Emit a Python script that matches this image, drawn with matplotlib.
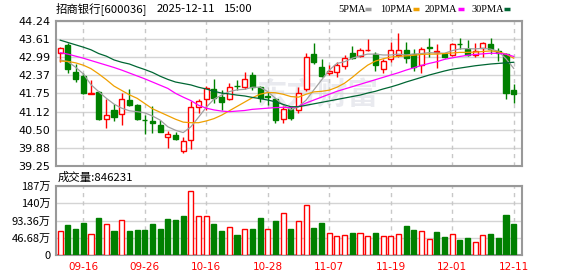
import numpy as np
import matplotlib
matplotlib.use("Agg")
import matplotlib.pyplot as plt
from matplotlib.lines import Line2D

plt.rcParams['font.family'] = ['Noto Sans CJK SC', 'DejaVu Sans']

# trading days 2025-09-11 .. 2025-12-11
dates = ["09-11", "09-12", "09-15", "09-16", "09-17", "09-18", "09-19", "09-22", "09-23", "09-24",
         "09-25", "09-26", "09-29", "09-30", "10-09", "10-10", "10-13", "10-14", "10-15", "10-16",
         "10-17", "10-20", "10-21", "10-22", "10-23", "10-24", "10-27", "10-28", "10-29", "10-30",
         "10-31", "11-03", "11-04", "11-05", "11-06", "11-07", "11-10", "11-11", "11-12", "11-13",
         "11-14", "11-17", "11-18", "11-19", "11-20", "11-21", "11-24", "11-25", "11-26", "11-27",
         "11-28", "12-01", "12-02", "12-03", "12-04", "12-05", "12-08", "12-09", "12-10", "12-11"]

opens = [43.15, 43.41, 42.47, 42.35, 41.74, 41.79, 40.86, 41.18, 41.03, 41.52,
         41.36, 40.84, 40.81, 40.66, 40.24, 40.32, 39.78, 40.15, 41.27, 41.56,
         41.90, 41.64, 41.55, 42.02, 41.98, 42.38, 41.96, 41.66, 41.56, 40.86,
         41.20, 41.18, 41.89, 43.10, 42.67, 42.44, 42.50, 42.69, 43.13, 43.04,
         43.23, 43.10, 42.58, 42.92, 43.07, 43.24, 43.10, 42.73, 43.36, 43.18,
         43.10, 43.07, 43.46, 43.27, 43.07, 43.30, 43.45, 43.22, 43.10, 41.87]
highs = [43.33, 43.49, 42.75, 42.46, 42.21, 41.83, 41.56, 41.38, 41.75, 41.89,
         41.38, 41.00, 41.32, 40.83, 40.45, 40.43, 40.24, 41.50, 41.55, 42.02,
         42.24, 41.85, 42.10, 42.21, 42.49, 42.47, 42.00, 41.78, 41.58, 41.32,
         41.29, 41.98, 43.13, 43.49, 42.92, 42.73, 42.84, 43.07, 43.38, 43.30,
         43.61, 43.18, 42.92, 43.51, 43.84, 43.52, 43.27, 43.33, 43.65, 43.44,
         43.15, 43.47, 43.64, 43.59, 43.47, 43.53, 43.67, 43.30, 43.13, 42.07]
lows = [42.82, 42.46, 42.15, 41.72, 41.73, 40.83, 40.57, 40.81, 40.66, 41.32,
        40.83, 40.34, 40.40, 40.42, 39.86, 40.15, 39.71, 39.85, 41.08, 41.18,
        41.41, 41.18, 41.52, 41.87, 41.89, 41.87, 41.46, 41.35, 40.72, 40.74,
        40.83, 41.06, 41.84, 42.76, 42.32, 42.38, 42.32, 42.58, 42.92, 43.01,
        43.22, 42.53, 42.46, 42.84, 43.01, 42.78, 42.53, 42.46, 43.01, 42.61,
        42.96, 43.04, 43.27, 43.04, 43.00, 43.00, 43.10, 42.87, 41.57, 41.43]
closes = [43.30, 42.58, 42.24, 41.77, 41.76, 40.86, 41.00, 40.93, 41.55, 41.35,
          40.86, 40.82, 40.72, 40.43, 40.34, 40.18, 40.11, 41.27, 41.50, 41.94,
          41.60, 41.46, 41.98, 42.00, 42.23, 41.96, 41.58, 41.62, 40.83, 41.20,
          40.89, 41.77, 43.01, 42.82, 42.35, 42.53, 42.73, 42.96, 42.96, 43.24,
          43.25, 42.73, 42.87, 43.24, 43.24, 42.96, 42.67, 43.27, 43.30, 43.20,
          43.01, 43.45, 43.44, 43.07, 43.22, 43.47, 43.27, 43.13, 41.75, 41.73]

ma5 = [42.90, 42.84, 42.65, 42.42, 42.05, 41.81, 41.58, 41.38, 41.24, 41.15,
       41.12, 41.08, 40.97, 40.83, 40.60, 40.48, 40.40, 40.60, 40.93, 41.27,
       41.55, 41.69, 41.81, 41.87, 41.89, 41.96, 41.96, 41.81, 41.58, 41.35,
       41.18, 41.29, 41.52, 41.87, 42.21, 42.55, 42.78, 42.84, 42.96, 43.04,
       43.10, 43.10, 43.07, 43.07, 43.10, 43.07, 43.10, 43.12, 43.15, 43.14,
       43.13, 43.22, 43.28, 43.29, 43.28, 43.30, 43.27, 43.20, 42.94, 42.61]
ma10 = [42.86, 42.85, 42.80, 42.72, 42.60, 42.42, 42.22, 42.00, 41.85, 41.70,
        41.58, 41.40, 41.22, 41.10, 40.98, 40.86, 40.76, 40.74, 40.74, 40.80,
        40.88, 41.00, 41.15, 41.30, 41.45, 41.60, 41.72, 41.78, 41.77, 41.72,
        41.64, 41.62, 41.72, 41.80, 41.82, 41.86, 41.96, 42.10, 42.30, 42.52,
        42.72, 42.86, 42.94, 43.00, 43.02, 43.04, 43.06, 43.09, 43.10, 43.10,
        43.12, 43.14, 43.16, 43.16, 43.17, 43.19, 43.21, 43.18, 43.10, 42.96]
ma20 = [43.15, 43.10, 43.03, 42.96, 42.88, 42.80, 42.72, 42.64, 42.55, 42.45,
        42.35, 42.25, 42.14, 42.03, 41.92, 41.75, 41.62, 41.50, 41.34, 41.24,
        41.18, 41.14, 41.12, 41.14, 41.16, 41.20, 41.22, 41.24, 41.26, 41.27,
        41.26, 41.30, 41.42, 41.52, 41.62, 41.72, 41.82, 41.90, 41.98, 42.06,
        42.14, 42.22, 42.30, 42.38, 42.46, 42.55, 42.63, 42.71, 42.78, 42.84,
        42.92, 42.97, 43.02, 43.06, 43.09, 43.11, 43.13, 43.13, 43.10, 43.02]
ma30 = [43.58, 43.50, 43.42, 43.34, 43.25, 43.12, 43.03, 42.90, 42.82, 42.76,
        42.66, 42.57, 42.47, 42.34, 42.23, 42.14, 42.09, 42.04, 41.96, 41.90,
        41.82, 41.76, 41.73, 41.69, 41.66, 41.61, 41.57, 41.52, 41.46, 41.37,
        41.29, 41.29, 41.34, 41.39, 41.44, 41.49, 41.54, 41.59, 41.64, 41.69,
        41.76, 41.82, 41.90, 41.97, 42.05, 42.14, 42.22, 42.30, 42.38, 42.45,
        42.52, 42.58, 42.62, 42.66, 42.70, 42.73, 42.76, 42.78, 42.80, 42.82]

# volume in 万 shares, colour by change vs previous close (R up / G down)
volume = [64.1, 81.2, 70.4, 86.6, 56.0, 100.1, 83.1, 64.9, 93.9, 64.9,
          67.7, 67.7, 83.9, 70.4, 97.4, 94.7, 105.5, 172.4, 104.7, 104.7,
          83.9, 64.9, 75.8, 54.1, 70.4, 70.4, 100.1, 70.4, 92.0, 113.7,
          70.4, 92.0, 135.3, 73.1, 86.6, 59.5, 51.4, 54.1, 59.5, 59.5,
          51.4, 59.5, 51.4, 51.4, 56.8, 79.4, 67.7, 64.9, 43.3, 62.2,
          48.7, 56.8, 40.6, 46.0, 35.2, 54.1, 56.8, 46.0, 108.2, 84.6231]
vol_dir = "RGGGRGRGRGGGGGGGGRRRGGRGRGGRGRGRRGGRRRGRRGRRRGGRRGGRGGRRGGGG"

price_ticks = [39.25, 39.88, 40.50, 41.12, 41.75, 42.37, 42.99, 43.61, 44.24]
vol_ticks = [0, 46.68, 93.36, 140.04, 186.72]
vol_labels = ["0", "46.68万", "93.36万", "140万", "187万"]
date_ticks = ["09-16", "09-26", "10-16", "10-28", "11-07", "11-19", "12-01", "12-11"]

RED = "#ff0000"
GREEN = "#008000"
GRID = "#d4d4d4"
FRAME = "#999999"

W, H = 578, 276
fig = plt.figure(figsize=(W / 100, H / 100), dpi=100)


def box(l, t, r, b):
    return [l / W, 1 - b / H, (r - l) / W, (b - t) / H]


ax = fig.add_axes(box(56, 21, 522, 166))
axv = fig.add_axes(box(56, 186, 522, 255))

x = np.arange(len(dates))
o = np.array(opens)
c = np.array(closes)
up = c >= o
edge = np.where(up, RED, GREEN)
face = np.where(up, "white", GREEN)

ax.text(0.56, 0.49, "东方财富", transform=ax.transAxes, ha="center", va="center",
        fontsize=22, fontweight="bold", color="#e9eaef", zorder=0.5)

ax.vlines(x, lows, highs, colors=edge, lw=1, zorder=3)
ax.bar(x, np.abs(c - o), bottom=np.minimum(o, c), width=0.66, color=face,
       edgecolor=edge, linewidth=1, zorder=4)

ax.plot(x, ma5, color="#a0a0a0", lw=0.9, zorder=5)
ax.plot(x, ma10, color="#f0a000", lw=0.9, zorder=5)
ax.plot(x, ma20, color="#ff00ff", lw=0.9, zorder=5)
ax.plot(x, ma30, color="#006633", lw=0.9, zorder=5)

vup = np.array([d == "R" for d in vol_dir])
axv.bar(x, volume, width=0.66, color=np.where(vup, "white", GREEN),
        edgecolor=np.where(vup, RED, GREEN), linewidth=1, zorder=3)

tick_idx = [dates.index(d) for d in date_ticks]
for a in (ax, axv):
    a.set_xlim(-0.55, 60.08)
    a.set_axisbelow(True)
    a.grid(axis="y", color=GRID, lw=1, ls="-")
    for t in tick_idx:
        a.axvline(t, color="#c8c8c8", lw=1, ls=(0, (3, 3)), zorder=1)
    for s in a.spines.values():
        s.set_color(FRAME)
        s.set_linewidth(1.5)
    a.tick_params(length=0, labelsize=8, colors="black", pad=4)

ax.set_ylim(39.25, 44.24)
ax.set_yticks(price_ticks)
ax.set_yticklabels([f"{v:.2f}" for v in price_ticks], family="DejaVu Sans")
ax.set_xticks([])

axv.set_ylim(0, 186.72)
axv.set_yticks(vol_ticks)
axv.set_yticklabels(vol_labels)
axv.set_xticks(tick_idx)
axv.set_xticklabels(date_ticks, color=RED, fontsize=7.5, family="DejaVu Sans")
axv.tick_params(axis="x", pad=5)

# header
fig.text(56 / W, 1 - 9 / H, "招商银行[600036]", fontsize=8.2, va="center")
fig.text(157 / W, 1 - 9 / H, "2025-12-11", fontsize=8.2, va="center")
fig.text(224 / W, 1 - 9 / H, "15:00", fontsize=8.2, va="center")
fig.text(58 / W, 1 - 177 / H, "成交量:846231", fontsize=8.2, va="center")

legend = [("5PMA", 338, "#a0a0a0"), ("10PMA", 380, "#f0a000"),
          ("20PMA", 425, "#ff00ff"), ("30PMA", 471, "#006633")]
for name, lx, col in legend:
    t = fig.text(lx / W, 1 - 9 / H, name, fontsize=7.5, va="center",
                 family="Liberation Serif")
    dx = 27 if name == "5PMA" else 33
    fig.add_artist(Line2D([(lx + dx) / W, (lx + dx + 6) / W], [1 - 9 / H, 1 - 9 / H],
                          color=col, lw=2.5, solid_capstyle="butt"))

fig.savefig("out.png", dpi=100)
